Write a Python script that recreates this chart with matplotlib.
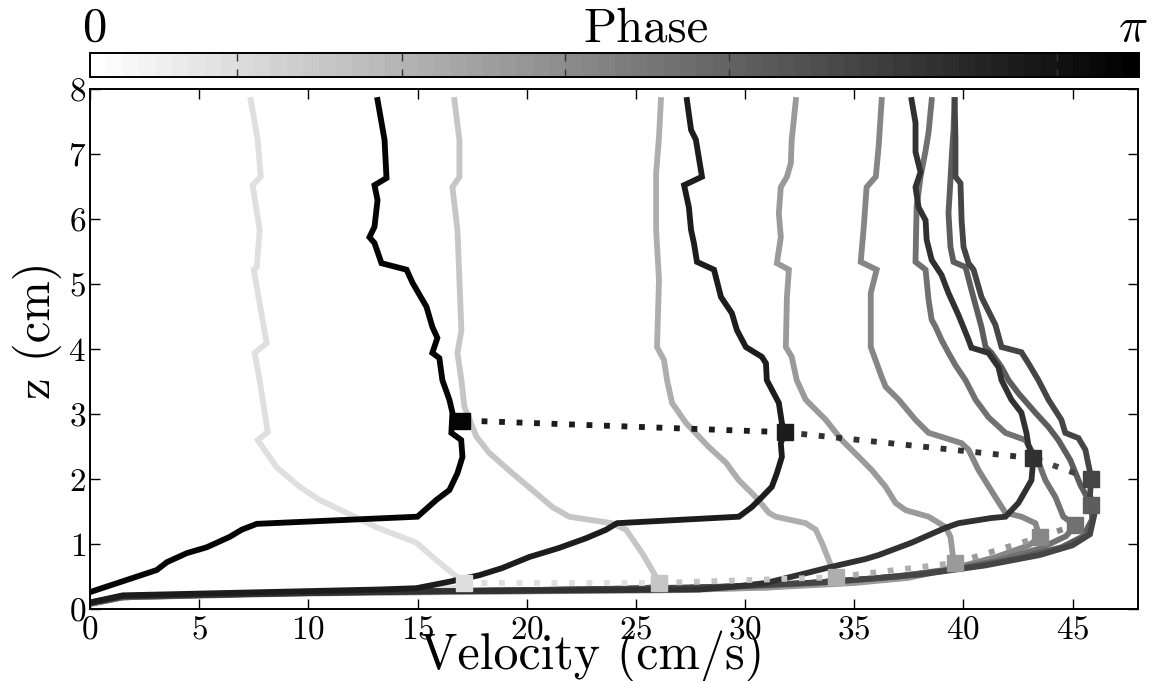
import numpy as np
import matplotlib
matplotlib.use("Agg")
import matplotlib.pyplot as plt
from matplotlib import colors, colorbar

plt.rcParams['font.family'] = 'serif'
plt.rcParams['font.serif'] = ['cmr10']
plt.rcParams['mathtext.fontset'] = 'cm'
plt.rcParams['axes.unicode_minus'] = False
plt.rcParams['axes.formatter.use_mathtext'] = True

# phase of each profile (fraction of pi), light -> dark
phase = [0.14, 0.23, 0.32, 0.40, 0.47, 0.56, 0.64, 0.72, 0.81, 0.89, 0.98]

# velocity profiles (top -> bottom)
vel_a = [7.36, 7.68, 7.82, 7.45, 7.77, 7.64, 7.5, 8.09, 7.54, 7.77, 8.14, 7.68, 8.55, 9.6, 10.5, 11.75,
         13.1, 14.95, 15.7, 16.6, 17.15, 16.8, 15.0, 8.0, 1.5, 0.0]
z_a = [7.83, 7.22, 6.65, 6.52, 5.83, 5.26, 5.22, 4.09, 3.94, 3.52, 2.72, 2.6, 2.18, 1.88, 1.68, 1.48,
       1.26, 1.02, 0.8, 0.55, 0.4, 0.33, 0.27, 0.23, 0.18, 0.08]

vel_c = [16.69, 16.92, 16.92, 16.6, 16.83, 16.92, 17.01, 16.83, 17.01, 17.15, 17.7, 18.29, 19.34, 20.26,
         21.17, 21.95, 23.91, 24.55, 25.29, 25.83, 26.06, 25.5, 22.0, 15.0, 8.0, 1.5, 0.0]
z_c = [7.83, 7.22, 6.65, 6.49, 5.83, 5.06, 4.29, 3.94, 3.52, 3.11, 2.65, 2.4, 2.09, 1.83,
       1.57, 1.42, 1.32, 1.22, 0.86, 0.55, 0.4, 0.32, 0.28, 0.26, 0.23, 0.18, 0.08]

vel_d = [26.15, 26.06, 25.93, 25.93, 26.06, 25.97, 26.29, 26.43, 26.66, 27.3, 28.35, 29.13, 29.72, 30.5,
         31.09, 31.41, 32.78, 33.24, 33.52, 33.84, 34.06, 34.15, 33.6, 31.0, 27.0, 20.0, 10.0, 1.5, 0.0]
z_d = [7.83, 7.26, 6.71, 5.83, 5.06, 4.03, 3.83, 3.52, 3.17, 2.86, 2.49, 2.25, 1.98, 1.72,
       1.48, 1.42, 1.32, 1.22, 1.02, 0.75, 0.55, 0.49, 0.4, 0.33, 0.29, 0.27, 0.24, 0.18, 0.08]

vel_f = [32.33, 32.14, 32.1, 31.92, 31.64, 31.55, 31.64, 31.46, 32.01, 31.92, 31.87, 32.14, 32.37, 32.78,
         33.7, 34.43, 35.21, 35.8, 36.44, 36.9, 37.36, 38.41, 39.19, 39.41, 39.55, 39.64,
         39.2, 37.5, 35.0, 31.0, 26.0, 18.0, 8.0, 1.5, 0.0]
z_f = [7.83, 7.22, 6.86, 6.65, 6.49, 6.09, 5.72, 5.32, 5.22, 4.8, 4.03, 3.88, 3.52, 3.22,
       2.91, 2.6, 2.34, 2.14, 1.88, 1.63, 1.52, 1.42, 1.26, 1.11, 0.75, 0.71,
       0.6, 0.48, 0.4, 0.33, 0.29, 0.27, 0.24, 0.18, 0.08]

vel_g = [36.26, 36.12, 35.99, 35.57, 35.44, 35.3, 36.03, 35.76, 35.76, 36.26, 36.44, 37.04, 37.81, 38.41,
         39.46, 39.92, 40.24, 40.69, 41.47, 41.93, 42.66, 43.3, 43.44, 43.53,
         43.0, 41.5, 39.5, 37.0, 34.0, 30.0, 25.0, 15.0, 8.0, 1.5, 0.0]
z_g = [7.83, 7.11, 6.65, 6.49, 5.88, 5.34, 5.22, 4.86, 4.03, 3.57, 3.42, 3.22, 2.91, 2.71,
       2.6, 2.55, 2.45, 2.14, 1.72, 1.48, 1.42, 1.32, 1.17, 1.11,
       0.98, 0.8, 0.62, 0.5, 0.41, 0.34, 0.3, 0.27, 0.24, 0.18, 0.08]

vel_i = [38.55, 38.41, 38.27, 38.04, 37.86, 37.81, 38.27, 38.41, 38.55, 38.73, 39.0, 39.32, 39.64, 40.1,
         40.56, 41.15, 41.93, 42.84, 43.44, 43.76, 44.22, 44.58, 45.13,
         44.7, 43.5, 41.5, 39.0, 36.0, 32.0, 27.0, 18.0, 8.0, 1.5, 0.0]
z_i = [7.83, 7.34, 7.05, 6.65, 6.18, 5.34, 5.22, 4.75, 4.45, 4.34, 4.14, 3.94, 3.75, 3.52,
       3.22, 2.95, 2.71, 2.6, 2.26, 1.98, 1.72, 1.42, 1.29,
       1.12, 0.93, 0.74, 0.58, 0.47, 0.38, 0.32, 0.28, 0.24, 0.18, 0.08]

vel_j = [39.6, 39.55, 39.46, 39.41, 39.32, 39.41, 39.55, 40.1, 40.37, 40.83, 41.02, 41.29, 41.75, 42.07,
         42.52, 43.3, 43.9, 44.35, 44.9, 45.36, 45.73, 45.86,
         45.9, 45.5, 44.5, 42.5, 40.0, 37.0, 33.0, 28.0, 20.0, 10.0, 1.5, 0.0]
z_j = [7.83, 7.37, 6.91, 6.6, 6.09, 5.57, 5.34, 5.26, 4.91, 4.34, 4.03, 3.94, 3.72, 3.52,
       3.32, 3.02, 2.8, 2.6, 2.29, 1.91, 1.68, 1.6,
       1.38, 1.12, 0.95, 0.78, 0.63, 0.5, 0.4, 0.33, 0.29, 0.25, 0.19, 0.09]

vel_k = [39.6, 39.64, 39.64, 39.87, 39.92, 40.01, 40.24, 40.47, 40.83, 41.47, 41.75, 42.66, 42.98, 43.44,
         43.9, 44.49, 44.67, 45.27, 45.59, 45.73, 45.86,
         45.8, 46.0, 45.8, 45.0, 43.5, 41.0, 38.0, 34.0, 29.0, 22.0, 12.0, 1.5, 0.0]
z_k = [7.83, 7.22, 6.65, 6.55, 5.98, 5.57, 5.32, 5.22, 4.8, 4.37, 4.03, 3.95, 3.78, 3.52,
       3.22, 2.91, 2.71, 2.63, 2.45, 2.22, 2.02,
       1.75, 1.45, 1.15, 0.98, 0.83, 0.67, 0.53, 0.42, 0.34, 0.3, 0.26, 0.19, 0.09]

vel_h = [37.63, 37.81, 37.81, 38.04, 37.81, 37.95, 38.27, 38.32, 38.55, 39.0, 39.32, 39.78, 40.24, 40.37,
         41.15, 41.61, 41.75, 42.2, 42.66, 42.89, 42.98, 43.21, 43.12, 42.52, 41.93, 41.29, 39.78,
         39.19, 37.63, 36.12, 35.53, 33.97, 32.78, 30.96, 29.4, 27.9, 20.0, 15.0, 1.5, 0.0]
z_h = [7.83, 7.48, 7.03, 6.72, 6.49, 6.18, 5.98, 5.68, 5.37, 5.14, 4.86, 4.52, 4.14, 4.02,
       3.94, 3.72, 3.52, 3.22, 3.02, 2.71, 2.52, 2.32, 1.98, 1.63, 1.42, 1.4, 1.32,
       1.25, 1.02, 0.83, 0.77, 0.65, 0.55, 0.4, 0.34, 0.3, 0.28, 0.27, 0.2, 0.1]

vel_e = [27.34, 27.53, 27.75, 28.03, 27.21, 27.43, 27.53, 27.66, 27.8, 28.58, 28.9, 29.4, 29.63, 30.04,
         30.77, 30.96, 31.0, 31.55, 31.69, 31.82, 31.64, 31.69, 31.46, 31.23, 30.77, 30.32, 29.72,
         24.14, 23.64, 22.73, 21.49, 20.12, 18.88, 17.83, 16.46, 14.95, 13.26, 1.5, 0.0]
z_e = [7.83, 7.37, 7.22, 6.65, 6.52, 6.18, 5.83, 5.63, 5.34, 5.22, 4.8, 4.55, 4.29, 4.03,
       3.88, 3.78, 3.52, 3.17, 2.86, 2.72, 2.55, 2.34, 2.09, 1.88, 1.72, 1.57, 1.42,
       1.32, 1.22, 1.09, 0.94, 0.8, 0.63, 0.52, 0.42, 0.32, 0.3, 0.21, 0.1]

vel_b = [13.17, 13.49, 13.58, 13.03, 13.17, 13.03, 12.8, 13.03, 13.35, 14.5, 14.77, 15.41, 15.68, 15.91,
         15.68, 16.0, 16.14, 16.46, 16.6, 16.55, 17.0, 17.06, 16.83, 16.46, 15.87, 15.0, 7.64,
         6.95, 6.4, 5.35, 4.44, 3.52, 3.06, 0.0]
z_b = [7.83, 7.22, 6.63, 6.52, 6.29, 5.88, 5.72, 5.63, 5.32, 5.22, 5.02, 4.65, 4.34, 4.17,
       3.94, 3.86, 3.52, 3.22, 3.02, 2.71, 2.6, 2.34, 2.09, 1.83, 1.68, 1.42, 1.31,
       1.22, 1.11, 0.95, 0.86, 0.72, 0.6, 0.26]

profiles = [(vel_a, z_a), (vel_c, z_c), (vel_d, z_d), (vel_f, z_f), (vel_g, z_g), (vel_i, z_i),
            (vel_j, z_j), (vel_k, z_k), (vel_h, z_h), (vel_e, z_e), (vel_b, z_b)]

# velocity maximum of each profile (same order as phase)
peak_v = [17.15, 26.06, 34.15, 39.64, 43.53, 45.13, 45.86, 45.86, 43.21, 31.82, 17.06]
peak_z = [0.40, 0.40, 0.49, 0.71, 1.11, 1.29, 1.60, 2.00, 2.32, 2.72, 2.90]

x_ticks = [0, 5, 10, 15, 20, 25, 30, 35, 40, 45]
y_ticks = [0, 1, 2, 3, 4, 5, 6, 7, 8]
cbar_ticks = [0.140, 0.297, 0.453, 0.609, 0.766, 0.922]

cmap = plt.get_cmap('gray_r', 64)
norm = colors.Normalize(vmin=0, vmax=1)

fig = plt.figure(figsize=(11.63, 6.81), dpi=100)
ax = fig.add_axes([90 / 1163, 72 / 681, 1048 / 1163, 520 / 681])
cax = fig.add_axes([90 / 1163, 604 / 681, 1049 / 1163, 24 / 681])

for (v, z), p in zip(profiles, phase):
    ax.plot(v, z, color=cmap(norm(p)), lw=4.2, solid_joinstyle='miter')

# dotted path joining the velocity maxima, one colour per segment
for i in range(len(peak_v) - 1):
    ax.plot(peak_v[i:i + 2], peak_z[i:i + 2], color=cmap(norm(phase[i])),
            lw=4.2, linestyle=(0, (1, 2)))
for i in range(len(peak_v)):
    ax.plot(peak_v[i], peak_z[i], 's', ms=11, color=cmap(norm(phase[i])))

ax.set_xlim(0, 48)
ax.set_ylim(0, 8)
ax.set_xticks(x_ticks)
ax.set_yticks(y_ticks)
ax.tick_params(direction='in', top=True, right=True, length=7, width=1,
               labelsize=24, pad=3)
ax.tick_params(axis='x', pad=5)
for s in ax.spines.values():
    s.set_linewidth(1.4)

ax.set_xlabel('Velocity (cm/s)', fontsize=36, va='center')
ax.xaxis.set_label_coords(0.479, -0.09)
ax.set_ylabel('z (cm)', fontsize=35, va='center')
ax.yaxis.set_label_coords(-0.05, 0.537)

cb = colorbar.ColorbarBase(cax, cmap=cmap, norm=norm, orientation='horizontal')
cb.set_ticks(cbar_ticks)
cax.tick_params(axis='x', direction='in', top=True, bottom=True, length=6, width=1,
                color='#333333', labelbottom=False)
cb.outline.set_linewidth(1.4)
cax.text(0.004, 1.5, '0', transform=cax.transAxes, fontsize=35, ha='center', va='baseline')
cax.text(0.53, 1.5, 'Phase', transform=cax.transAxes, fontsize=35, ha='center', va='baseline')
cax.text(0.994, 1.5, r'$\pi$', transform=cax.transAxes, fontsize=35, ha='center', va='baseline')

fig.savefig('out.png', dpi=100)
